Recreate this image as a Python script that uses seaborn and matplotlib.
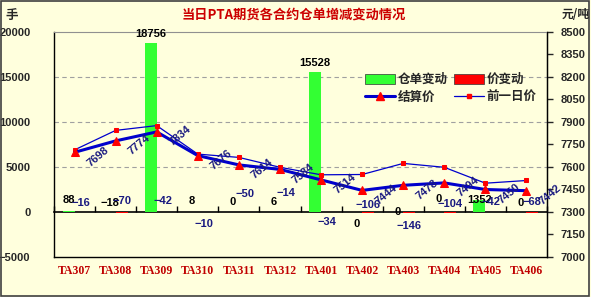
import numpy as np
import pandas as pd
import matplotlib
matplotlib.use("Agg")
import matplotlib.pyplot as plt
import seaborn as sns
from matplotlib.lines import Line2D
from matplotlib.patches import Patch

# ---------------- data ----------------
contracts = ["TA307", "TA308", "TA309", "TA310", "TA311", "TA312",
             "TA401", "TA402", "TA403", "TA404", "TA405", "TA406"]
warehouse_change = [88, -18, 18756, 8, 0, 6, 15528, 0, 0, 0, 1352, 0]
price_change = [-16, -70, -42, -10, -50, -14, -34, -106, -146, -104, -42, -68]
settle_price = [7698, 7774, 7834, 7676, 7614, 7584, 7514, 7444, 7478, 7494, 7450, 7442]
prev_price = [7714, 7844, 7876, 7686, 7664, 7598, 7548, 7550, 7624, 7598, 7492, 7510]

series_names = ["仓单变动", "价变动", "结算价", "前一日价"]
title = "当日PTA期货各合约仓单增减变动情况"
left_unit = "手"
right_unit = "元/吨"

# ---------------- label layout (px above the zero line) ----------------
black_label_dy = [12, 9, None, 11, 10, 10, None, -12, 0, 13, 12, 9]
blue_label_dy = [9, 11, 11, -12, 18, 19, -10, 7, -14, 8, 10, 10]

# ---------------- style ----------------
BG = "#FFFFDD"
GREEN = "#33FF33"
RED = "#FF0000"
NAVY = "#0000CC"
LABEL_NAVY = "#1A1A80"
DARKRED = "#C00000"

sns.set_style("white")
plt.rcParams["font.family"] = ["Liberation Sans", "Noto Sans CJK SC", "DejaVu Sans"]
CJK = ["Noto Sans CJK SC", "DejaVu Sans"]

fig = plt.figure(figsize=(5.91, 2.97), dpi=100, facecolor=BG)
ax = fig.add_axes([54 / 591, 1 - 257 / 297, (547 - 54) / 591, (257 - 32) / 297])
ax.set_facecolor(BG)

n = len(contracts)
idx = np.arange(n)

df = pd.DataFrame({
    "合约": contracts * 2,
    "值": warehouse_change + price_change,
    "系列": [series_names[0]] * n + [series_names[1]] * n,
})
sns.barplot(data=df, x="合约", y="值", hue="系列", palette=[GREEN, RED],
            width=0.58, dodge=True, legend=False, ax=ax, saturation=1,
            edgecolor="none", zorder=3)

ax.set_xlim(-0.5, n - 0.5)
ax.set_ylim(-5000, 20000)
ax.set_yticks(np.arange(-5000, 20001, 5000))
ax.set_yticklabels([f"{v:d}".replace("-", "−") for v in range(-5000, 20001, 5000)],
                   fontsize=8, fontweight="bold")
ax.tick_params(axis="y", length=0, pad=17)
ax.set_xticks(idx)
ax.set_xticklabels(contracts, fontsize=8.5, fontweight="bold", color=DARKRED,
                   family=["Liberation Serif"])
ax.tick_params(axis="x", length=0, pad=6)
ax.set_xlabel("")
ax.set_ylabel("")
for v in (5000, 10000, 15000):
    ax.axhline(v, color="#A0A0A0", lw=0.8, ls=(0, (4, 3)), zorder=1)

for side in ("left", "bottom", "right"):
    ax.spines[side].set_color("black")
    ax.spines[side].set_linewidth(1)
ax.spines["top"].set_color("#909090")

# zero category line with boundary ticks
sec = ax.secondary_xaxis(0.2)
sec.set_xticks(np.arange(-0.5, n, 1))
sec.tick_params(axis="x", direction="in", length=4, width=1, labelbottom=False, color="black")
sec.spines["bottom"].set_color("black")
sec.spines["bottom"].set_linewidth(1.2)

# price axis
ax2 = ax.twinx()
ax2.set_ylim(7000, 8500)
ax2.set_yticks(np.arange(7000, 8501, 150))
ax2.set_yticklabels([str(v) for v in range(7000, 8501, 150)], fontsize=8, fontweight="bold")
ax2.tick_params(axis="y", direction="out", length=4, width=1, pad=6)
for side in ("left", "top", "bottom"):
    ax2.spines[side].set_visible(False)
ax2.spines["right"].set_color("black")

sns.lineplot(x=idx, y=prev_price, ax=ax2, color=NAVY, lw=0.9, marker="s",
             markersize=3, markerfacecolor=RED, markeredgecolor=RED, zorder=4)
sns.lineplot(x=idx, y=settle_price, ax=ax2, color=NAVY, lw=2.2, marker="^",
             markersize=6, markerfacecolor=RED, markeredgecolor=RED, zorder=5)
ax2.set_xlim(-0.5, n - 0.5)

# rotated price labels
for i, p in enumerate(settle_price):
    ax2.annotate(str(p), (i, p), xytext=(17, -3), textcoords="offset points",
                 rotation=40, ha="center", va="center", fontsize=8,
                 fontweight="bold", color=LABEL_NAVY, zorder=6)

# bar value labels
px2pt = 72 / 100
for i, v in enumerate(warehouse_change):
    if black_label_dy[i] is None:
        ax.annotate(str(v), (i - 0.145, v), xytext=(0, 3), textcoords="offset points",
                    ha="center", va="bottom", fontsize=8, fontweight="bold",
                    color="black", zorder=6)
    else:
        ax.annotate(str(v).replace("-", "−"), (i - 0.145, 0),
                    xytext=(0, black_label_dy[i] * px2pt), textcoords="offset points",
                    ha="center", va="center", fontsize=8, fontweight="bold",
                    color="black", zorder=6)
for i, v in enumerate(price_change):
    ax.annotate(str(v).replace("-", "−"), (i + 0.145, 0),
                xytext=(0, blue_label_dy[i] * px2pt), textcoords="offset points",
                ha="center", va="center", fontsize=8, fontweight="bold",
                color="#1A1A80", zorder=6)

# legend
handles = [
    Patch(facecolor=GREEN, edgecolor="#333333", lw=0.5, label=series_names[0]),
    Patch(facecolor=RED, edgecolor="#333333", lw=0.5, label=series_names[1]),
    Line2D([], [], color=NAVY, lw=2.2, marker="^", markersize=6,
           markerfacecolor=RED, markeredgecolor=RED, label=series_names[2]),
    Line2D([], [], color=NAVY, lw=0.9, marker="s", markersize=3,
           markerfacecolor=RED, markeredgecolor=RED, label=series_names[3]),
]
leg = fig.legend(handles=[handles[0], handles[2], handles[1], handles[3]], ncol=2,
                 loc="upper left", bbox_to_anchor=(360 / 591, 1 - 68 / 297),
                 frameon=False, prop={"family": CJK, "weight": "bold", "size": 9},
                 handlelength=2.4, handleheight=0.9, handletextpad=0.2,
                 columnspacing=0.5, labelspacing=0.35, borderaxespad=0)

# titles / units
fig.text(0.497, 1 - 15 / 297, title, ha="center", va="center", color="#CC0000",
         fontsize=9.5, fontweight="bold", family=CJK)
fig.text(12 / 591, 1 - 15 / 297, left_unit, ha="center", va="center",
         fontsize=9, fontweight="bold", family=CJK)
fig.text(576 / 591, 1 - 14 / 297, right_unit, ha="center", va="center",
         fontsize=8.5, fontweight="bold", family=CJK)

# figure border
fig.add_artist(plt.Rectangle((0.001, 0.003), 0.996, 0.995, transform=fig.transFigure,
                             fill=False, edgecolor="#404040", lw=1.2))

fig.savefig("out.png", dpi=100, facecolor=BG)
